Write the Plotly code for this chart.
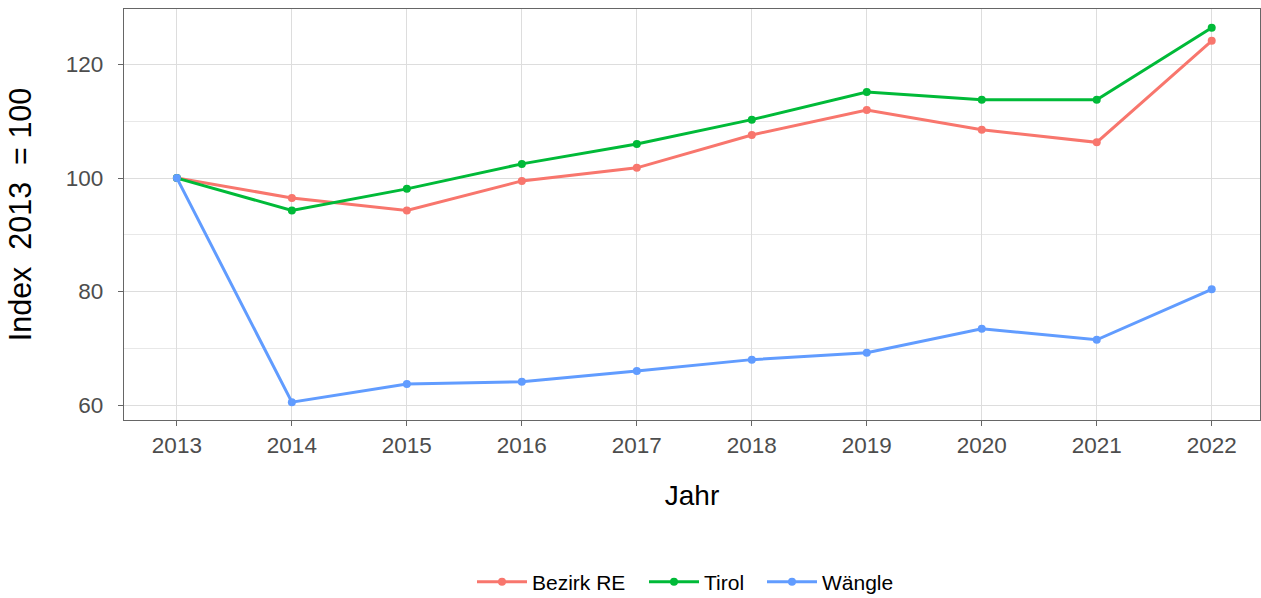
import plotly.graph_objects as go

years = [2013, 2014, 2015, 2016, 2017, 2018, 2019, 2020, 2021, 2022]
bezirk_re = [100, 96.5, 94.3, 99.5, 101.8, 107.6, 112.0, 108.5, 106.3, 124.2]
tirol = [100, 94.3, 98.1, 102.5, 106.0, 110.3, 115.15, 113.8, 113.8, 126.5]
waengle = [100, 60.5, 63.7, 64.1, 66.0, 68.0, 69.2, 73.45, 71.5, 80.4]

series_names = ["Bezirk RE", "Tirol", "Wängle"]
series_values = [bezirk_re, tirol, waengle]
colors = ["#F8766D", "#00BA38", "#619CFF"]
y_ticks = [60, 80, 100, 120]
y_minor = [70, 90, 110]

FONT = "Liberation Sans, Arial, sans-serif"
legend_ids = ["legend", "legend2", "legend3"]
legend_x_px = [472, 644, 762]

L, R, T, B, W, H = 124, 1, 9, 178, 1261, 598
PW, PH = W - L - R, H - T - B

fig = go.Figure()
for name, vals, col, lid in zip(series_names, series_values, colors, legend_ids):
    fig.add_trace(go.Scatter(
        x=years, y=vals, name=name, mode="lines+markers",
        line=dict(color=col, width=3),
        marker=dict(color=col, size=8),
        legend=lid,
    ))

legend_common = dict(orientation="h", xanchor="left", yanchor="middle",
                     y=-(582 - (T + PH)) / PH,
                     font=dict(size=21, family=FONT, color="#000000"),
                     itemwidth=50, bgcolor="rgba(0,0,0,0)")
legends = {}
for lid, xp in zip(legend_ids, legend_x_px):
    legends[lid] = dict(legend_common, x=(xp - L) / PW)

fig.update_layout(
    width=W, height=H,
    margin=dict(l=L, r=R, t=T, b=B, autoexpand=False),
    plot_bgcolor="white", paper_bgcolor="white",
    font=dict(family=FONT, color="#000000"),
    showlegend=True,
    **legends,
    xaxis=dict(
        range=[2012.54, 2022.42], tickmode="array", tickvals=years,
        ticktext=[str(y) for y in years],
        showgrid=True, gridcolor="#DDDDDD", gridwidth=1,
        showline=True, linecolor="#666666", linewidth=1.3, mirror=True,
        ticks="outside", ticklen=5, tickcolor="#666666", tickwidth=1,
        tickfont=dict(size=22.5, color="#4D4D4D", family=FONT),
        title=dict(text="Jahr", font=dict(size=28, color="#000000", family=FONT), standoff=28),
        zeroline=False,
    ),
    yaxis=dict(
        range=[57.36, 129.8], tickmode="array", tickvals=y_ticks,
        showgrid=True, gridcolor="#DDDDDD", gridwidth=1,
        minor=dict(tickvals=y_minor, showgrid=True, gridcolor="#E8E8E8", gridwidth=1),
        showline=True, linecolor="#666666", linewidth=1.3, mirror=True,
        ticks="outside", ticklen=5, tickcolor="#666666", tickwidth=1,
        ticklabelstandoff=10,
        tickfont=dict(size=22.5, color="#4D4D4D", family=FONT),
        title=dict(text="Index  2013  = 100", font=dict(size=30.5, color="#000000", family=FONT), standoff=25),
        zeroline=False,
    ),
)

fig.write_html("out.html", config={"displayModeBar": False},
               post_script="document.body.style.margin='0';")
